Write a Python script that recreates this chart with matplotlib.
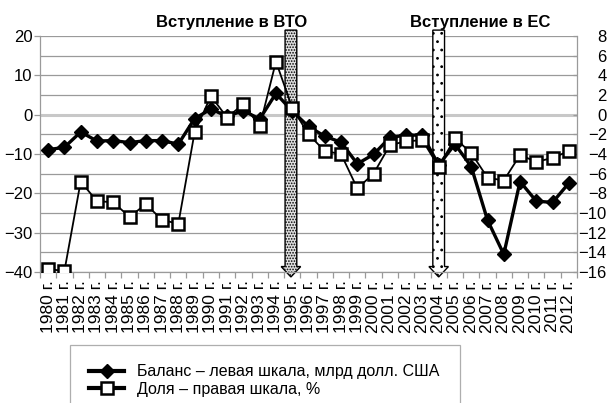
import matplotlib
matplotlib.use('agg')
import matplotlib.pyplot as plt
import matplotlib.transforms as mtransforms
from matplotlib.patches import Polygon
from matplotlib.lines import Line2D

plt.rcParams['font.family'] = ['Liberation Sans', 'DejaVu Sans']
plt.rcParams['hatch.linewidth'] = 0.8

# Data
years = list(range(1980, 2013))
year_labels = [f"{y} г." for y in years]

# Balance, bn USD (left axis)
balance = [-8.9, -8.3, -4.4, -6.7, -6.6, -7.1, -6.6, -6.6, -7.5, -1.0,
           1.4, -0.4, 1.0, -1.1, 5.4, 0.9, -3.0, -5.5, -7.0, -12.5,
           -10.1, -5.8, -5.2, -5.2, -12.8, -7.5, -13.2, -26.8, -35.5, -17.0,
           -22.0, -22.3, -17.4]

# Share, % (right axis)
share = [-15.7, -15.9, -6.8, -8.8, -8.9, -10.4, -9.1, -10.7, -11.1, -1.8,
         1.9, -0.3, 1.1, -1.2, 5.4, 0.7, -2.0, -3.7, -4.0, -7.5,
         -6.0, -3.1, -2.7, -2.6, -5.3, -2.4, -3.9, -6.4, -6.7, -4.1,
         -4.8, -4.4, -3.7]

events = ["Вступление в ВТО", "Вступление в ЕС"]
event_years = [1995, 2004]
legend_labels = ["Баланс – левая шкала, млрд долл. США", "Доля – правая шкала, %"]

# Figure
fig = plt.figure(figsize=(6.10, 4.03), dpi=100)
ax = fig.add_axes([40 / 610, 1 - 272 / 403, 537 / 610, 236 / 403])
ax2 = ax.twinx()

x = list(range(len(years)))
grid_c = '#9a9a9a'

# Left axis
ax.set_xlim(-0.5, len(years) - 0.5)
ax.set_ylim(-40, 20)
ax.set_yticks(range(-40, 21, 10))
for v in range(-40, 21, 5):
    if v == 0:
        ax.axhline(v, color='#c8c8c8', lw=2.2, zorder=1)
    else:
        ax.axhline(v, color=grid_c, lw=0.9, zorder=1)
ax.tick_params(axis='y', direction='out', length=4, width=0.9, color=grid_c,
               labelsize=12, pad=1.5)

ax.set_xticks(x)
ax.set_xticklabels(year_labels, rotation=90, fontsize=12.5)
ax.set_xticks([i - 0.5 for i in range(len(years) + 1)], minor=True)
ax.tick_params(axis='x', which='major', length=0, pad=6)
ax.tick_params(axis='x', which='minor', direction='out', length=4, width=0.9, color=grid_c)

for s in ['left', 'bottom', 'right']:
    ax.spines[s].set_color(grid_c)
    ax.spines[s].set_linewidth(0.9)
ax.spines['top'].set_visible(False)

ax.plot(x, balance, color='black', lw=2.4, marker='D', markersize=7,
        markerfacecolor='black', markeredgecolor='black', zorder=3)

# Right axis
ax2.set_ylim(-16, 8)
ax2.set_yticks(range(-16, 9, 2))
ax2.tick_params(axis='y', direction='in', length=3, width=0.9, color=grid_c,
                labelsize=12, pad=21.5)
for tl in ax2.get_yticklabels():
    tl.set_horizontalalignment('right')
for s in ['left', 'bottom', 'right', 'top']:
    ax2.spines[s].set_visible(False)

ax2.plot(x, share, color='black', lw=1.3, marker='s', markersize=8.5,
         markerfacecolor='white', markeredgecolor='black', markeredgewidth=1.8,
         zorder=3)

# Event arrows and labels
trans = mtransforms.blended_transform_factory(ax.transData, ax.transAxes)
arrow_styles = [dict(facecolor='#e0e0e0', hatch='......'),
                dict(facecolor='white', hatch='..')]
text_x = [11.3, 26.55]
for i, (name, yr) in enumerate(zip(events, event_years)):
    cx = years.index(yr) - (0.08 if i == 0 else 0.0)
    sw, hw = 0.36, 0.6
    y_top, y_head, y_tip = 1.025, 0.023, -0.021
    pts = [(cx - sw, y_top), (cx + sw, y_top), (cx + sw, y_head), (cx + hw, y_head),
           (cx, y_tip), (cx - hw, y_head), (cx - sw, y_head)]
    arr = Polygon(pts, closed=True, transform=trans, clip_on=False,
                  edgecolor='black', lw=1.0, zorder=2, **arrow_styles[i])
    ax.add_patch(arr)
    ax.text(text_x[i], 1.059, name, transform=trans, ha='center', va='center',
            fontsize=12, fontweight='bold')

# Legend
handles = [
    Line2D([], [], color='black', lw=3, marker='D', markersize=7,
           markerfacecolor='black', markeredgecolor='black'),
    Line2D([], [], color='black', lw=3, marker='s', markersize=8.5,
           markerfacecolor='white', markeredgecolor='black', markeredgewidth=1.8),
]
leg = fig.legend(handles, legend_labels, loc='upper left',
                 bbox_to_anchor=(70 / 610, 1 - 349 / 403, 390 / 610, 0.01),
                 mode='expand', fontsize=11.5, frameon=True, fancybox=False,
                 edgecolor=grid_c, handlelength=2.2, handletextpad=0.8,
                 borderpad=1.2, labelspacing=0.15, borderaxespad=0, numpoints=1)
leg.get_frame().set_linewidth(0.9)

fig.savefig('out.png', dpi=100)
